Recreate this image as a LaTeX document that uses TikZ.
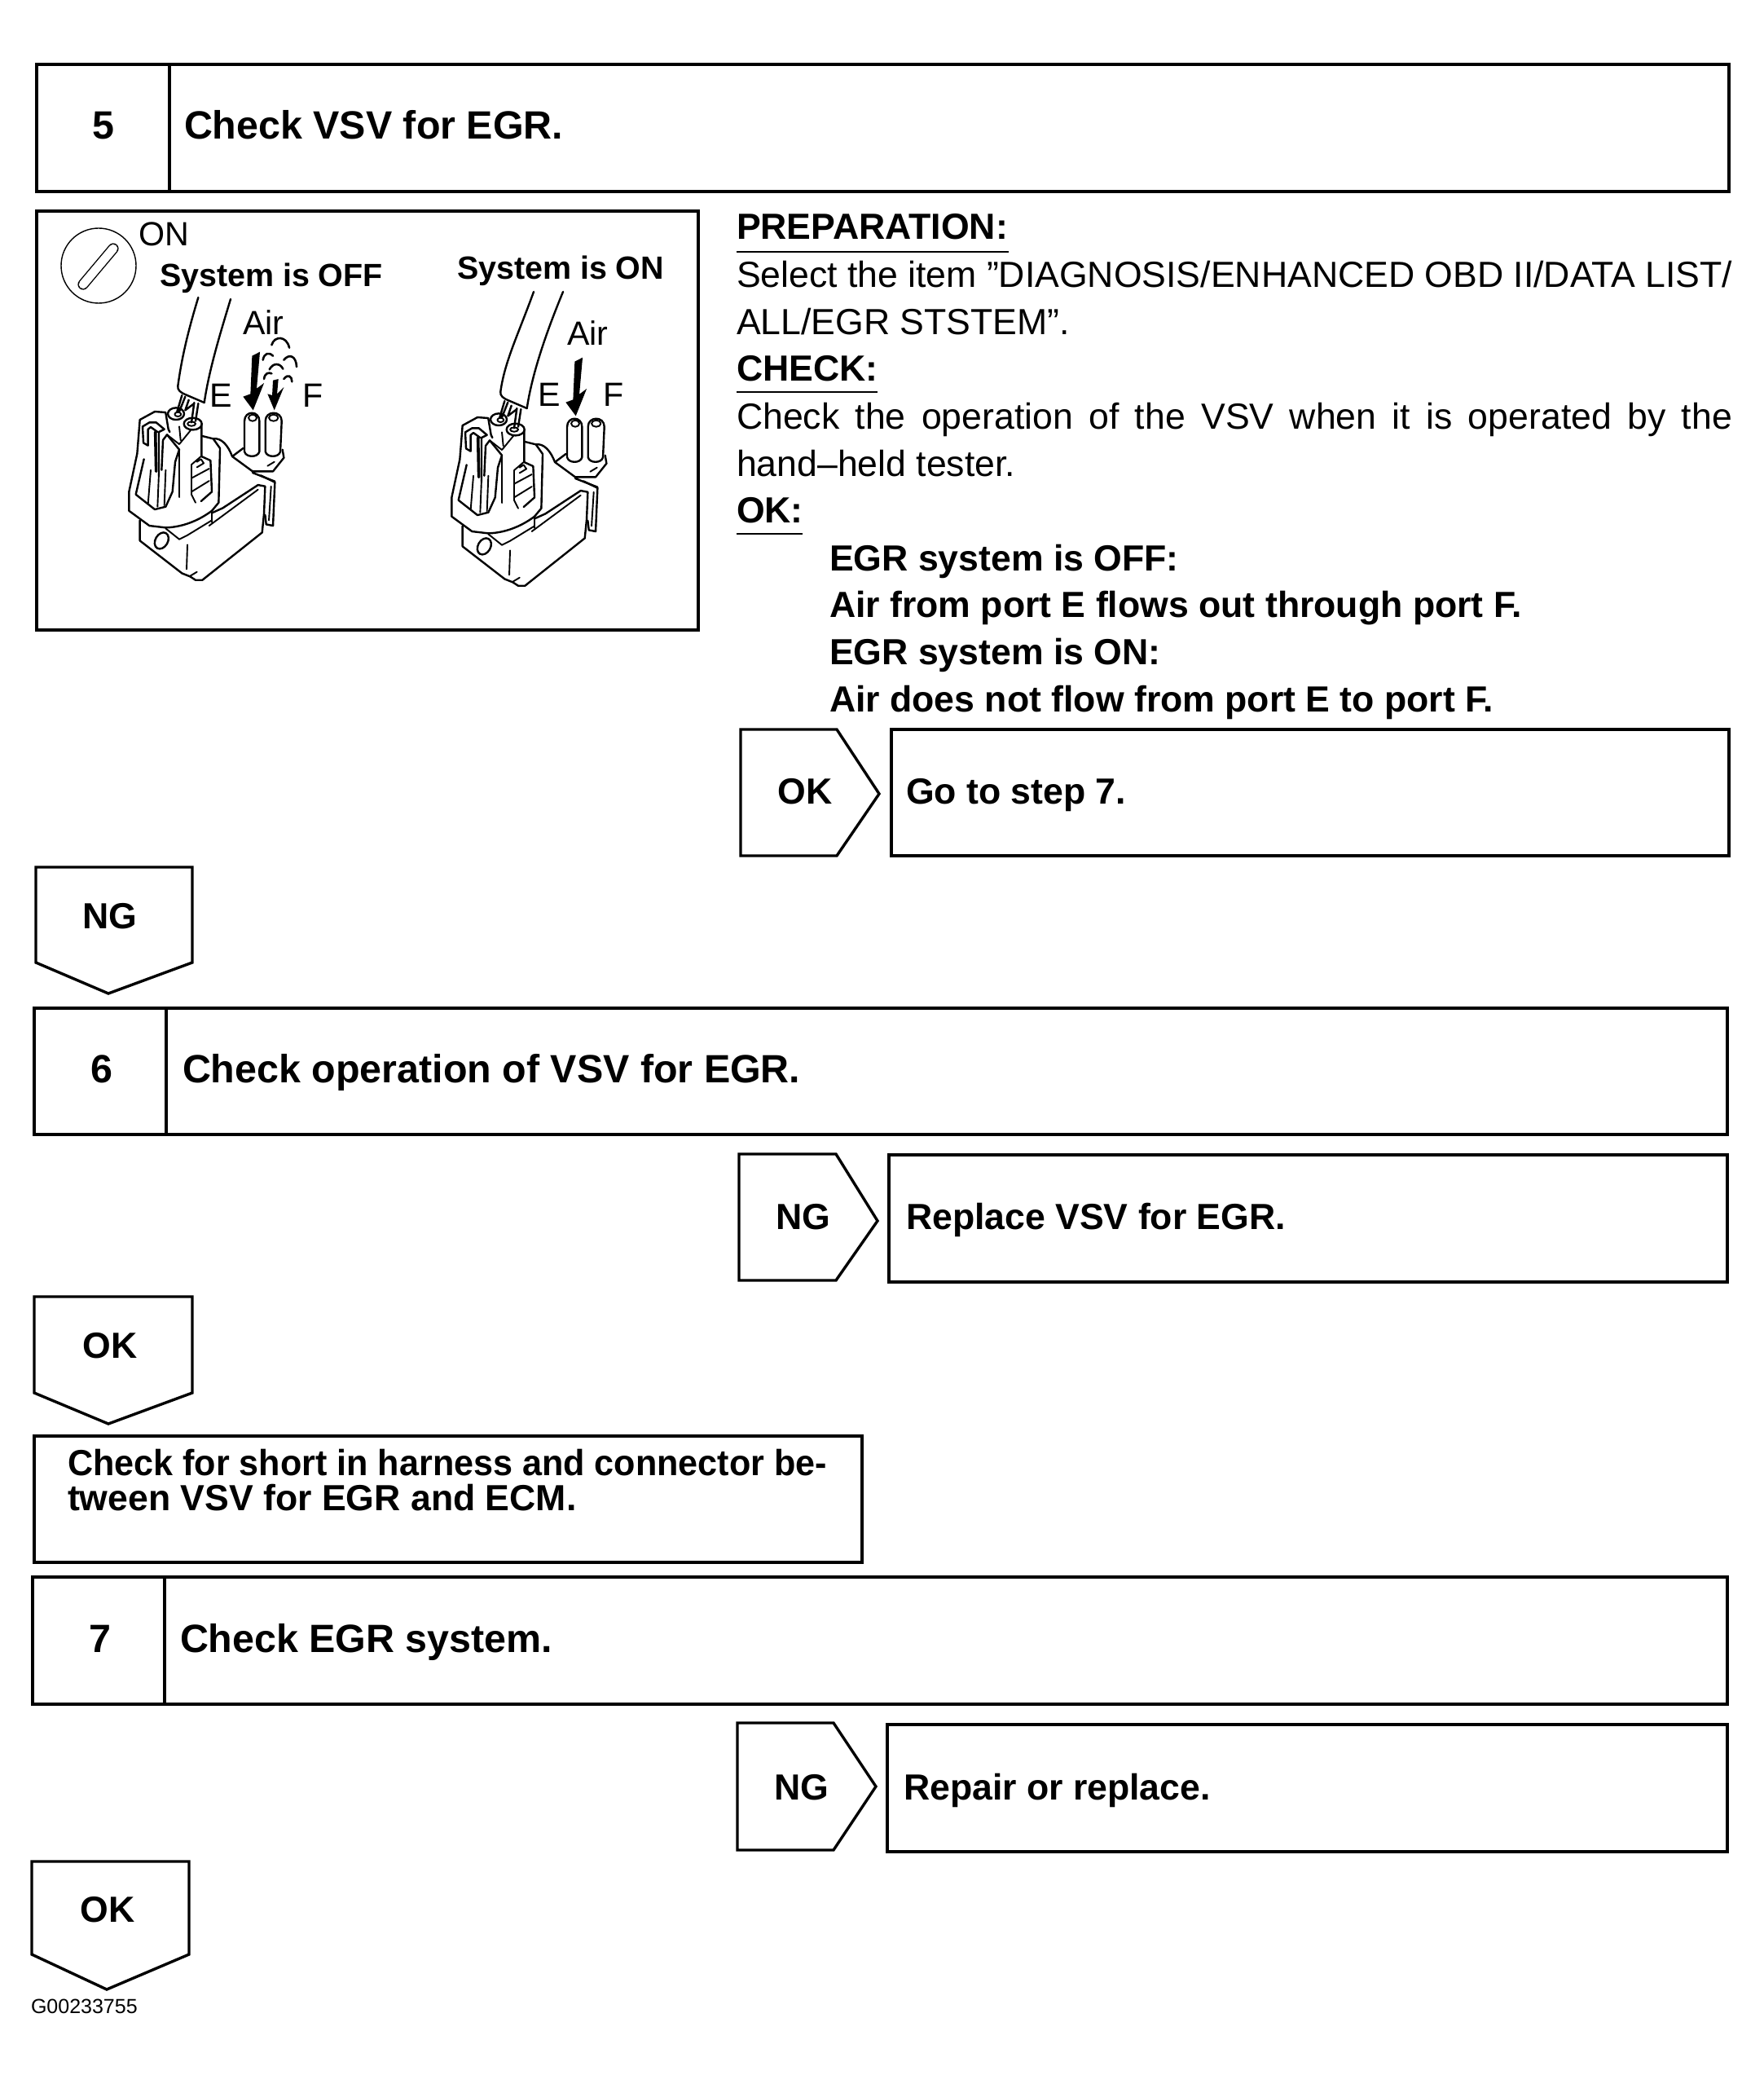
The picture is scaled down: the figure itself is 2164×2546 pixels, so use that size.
\documentclass[tikz,border=0pt]{standalone}
\usepackage{fontspec}
\setmainfont{Liberation Sans}
\newcommand{\bigfont}{\fontsize{24.2}{28}\selectfont\bfseries}
\newcommand{\midfont}{\fontsize{22.3}{26}\selectfont}
\newcommand{\midbold}{\fontsize{22.3}{26}\selectfont\bfseries}
\newcommand{\lblfont}{\fontsize{20.6}{25}\selectfont}
\newcommand{\sysfont}{\fontsize{19.7}{24}\selectfont\bfseries}
\newcommand{\vsvbody}{%
 % lower body
 \draw[ink] (95,805)--(95,880)--(250,1000)--(280,1012)--(300,1025)--(325,1025)--(350,1005)--(545,850)--(552,780)--(556,680)--(530,675)--(400,760)--(360,778);
 \draw[thin1] (530,692)--(350,825) (360,770)--(360,812) (190,835)--(240,875)--(270,860)--(360,805) (270,895)--(267,985) (280,1010)--(305,995);
 \draw[ink] (175,880) ellipse [x radius=23,y radius=32,rotate=-30];
 % right clip
 \draw[ink] (540,640)--(592,665)--(585,825)--(560,820)--(556,785);
 \draw[thin1] (578,680)--(570,805);
 % port base
 \draw[ink] (435,570)--(475,540) (435,570)--(510,625)--(585,625)--(625,575)--(620,545) (510,630)--(592,662);
 \draw[thin1] (565,605)--(590,590);
 % shell
 \draw[ink] (190,408)--(150,405)--(95,435)--(85,560)--(55,700)--(55,770)--(130,825)--(190,832) .. controls (260,830) and (320,800) .. (360,770)--(385,740)--(390,540)--(365,505)--(325,495);
 \draw[ink] (365,505) .. controls (395,500) and (420,530) .. (435,570);
 % clip and inner plug
 \draw[ink] (105,460)--(130,445)--(155,445)--(185,470)--(165,480)--(165,640);
 \draw[ink] (105,460)--(108,520)--(125,530)--(125,470)--(135,462)--(160,480);
 \draw[ink,line width=1.8pt] (152,480)--(155,625);
 \draw[ink] (110,580)--(80,710)--(150,765)--(190,755)--(215,700)--(225,590)--(240,545)--(195,490)--(180,510)--(175,620);
 \draw[thin1] (195,490)--(240,525)--(285,470) (240,545)--(240,720) (240,460)--(245,510) (135,620)--(125,745) (165,630)--(160,755) (190,620)--(185,750);
 % tower
 \draw[ink] (190,410)--(200,470)--(205,480) (322,450)--(322,570)--(355,585)--(360,700)--(320,735);
 \draw[thin1] (285,600)--(285,710)--(300,740) (285,650)--(350,615) (285,700)--(350,660) (305,590)--(320,580)--(330,595)--(305,610) (285,600)--(320,570);
 \draw[ink,fill=white] (228,413) ellipse [x radius=30,y radius=22];
 \draw[thin1] (235,415) ellipse [x radius=12,y radius=8];
 \draw[ink,fill=white] (290,450) ellipse [x radius=33,y radius=22];
 \draw[thin1] (285,450) ellipse [x radius=15,y radius=8];
 % wires
 \draw[ink] (250,345)--(232,405) (262,350)--(240,405) (275,362)--(262,400)--(295,375) (295,372)--(285,445) (310,375)--(300,440);
 % ports
 \draw[ink,fill=white] (480,552)--(480,440) .. controls (480,400) and (535,400) .. (535,440)--(535,552) .. controls (530,575) and (485,575) .. (480,552)--cycle;
 \draw[thin1] (510,428) ellipse [x radius=15,y radius=12];
 \draw[ink,fill=white] (557,552)--(557,440) .. controls (557,400) and (617,400) .. (617,440)--(612,552) .. controls (607,575) and (562,575) .. (557,552)--cycle;
 \draw[thin1] (587,428) ellipse [x radius=17,y radius=12];
 % big arrow
 \fill (508,200)--(537,185)--(525,320)--(552,300)--(512,400)--(475,350)--(502,340)--cycle;
}
\tikzset{
 boxline/.style={line width=1.7pt,line join=miter},
 divline/.style={line width=1.7pt},
 ink/.style={line width=1.2pt,line join=round,line cap=round},
 thin1/.style={line width=.95pt,line join=round,line cap=round},
 puff/.style={line width=1.3pt,line cap=round},
 ulinest/.style={line width=.8pt},
 txt/.style={anchor=base west,inner sep=0pt,outer sep=0pt},
 ctr/.style={anchor=base,inner sep=0pt,outer sep=0pt},
 bigt/.style={font=\bigfont},
 midt/.style={font=\midfont},
 midb/.style={font=\midbold},
 lblt/.style={font=\lblfont},
 syst/.style={font=\sysfont},
 art/.style={x=.1667pt,y=-.1667pt},
}
\begin{document}
\begin{tikzpicture}[x=.5pt,y=-.5pt]
\useasboundingbox (0,0) rectangle (2164,2546);
\fill[white] (0,0) rectangle (2164,2546);

% step 5
\draw[boxline] (45,79) rectangle (2122,235);
\draw[divline] (208,79)--(208,235);
\node[ctr,bigt] (n5) at (127,171) {5};
\node[txt,bigt] (t5) at (226,171) {Check VSV for EGR.};

% illustration frame
\draw[boxline] (45,259) rectangle (857,773);
\draw[line width=.7pt] (121,326) circle [radius=46];
\draw[line width=6.6pt,line cap=round] (102,349)--(139,305);
\draw[white,line width=5.2pt,line cap=round] (102,349)--(139,305);
\node[txt,lblt] (on) at (170,302) {ON};
\node[txt,syst] (sysoff) at (196,352) {System is OFF};
\node[txt,syst] (syson) at (561,343) {System is ON};
\node[txt,lblt] (air1) at (298,411) {Air};
\node[txt,lblt] (air2) at (696,424) {Air};
\node[txt,lblt] (e1) at (257,500) {E};
\node[txt,lblt] (f1) at (371,500) {F};
\node[txt,lblt] (e2) at (660,498) {E};
\node[txt,lblt] (f2) at (740,498) {F};

\begin{scope}[shift={(140,370)},art]
 \vsvbody
 \draw[ink] (310,-15) .. controls (275,100) and (250,200) .. (235,310) .. controls (232,325) and (245,335) .. (262,342) -- (332,372);
 \draw[ink] (429,-9) .. controls (390,120) and (350,250) .. (332,372);
 \fill (585,290)--(605,285)--(600,340)--(625,315)--(590,400)--(565,340)--(582,345)--cycle;
 \draw[puff] (580,160) .. controls (590,125) and (635,125) .. (645,170);
 \draw[puff] (548,215) .. controls (552,190) and (570,185) .. (585,200);
 \draw[puff] (625,215) .. controls (645,190) and (670,200) .. (672,240);
 \draw[puff] (572,250) .. controls (585,225) and (610,225) .. (622,248);
 \draw[puff] (552,285) .. controls (555,262) and (570,260) .. (580,265);
 \draw[puff] (625,285) .. controls (640,265) and (655,275) .. (655,295);
\end{scope}
\begin{scope}[shift={(536,377)},art]
 \vsvbody
 \draw[ink] (357,-57) .. controls (300,100) and (250,200) .. (235,310) .. controls (232,325) and (245,335) .. (262,342) -- (332,372);
 \draw[ink] (465,-57) .. controls (400,100) and (350,250) .. (332,372);
\end{scope}

% right column text
\node[txt,midb] (prep) at (904,294) {PREPARATION:};
\draw[ulinest] (904,309)--(1238,309);
\node[txt,midt] (sel) at (904,353) {\makebox[611pt][s]{Select the item ”DIAGNOSIS/ENHANCED OBD II/DATA LIST/}};
\node[txt,midt] (all) at (904,411) {ALL/EGR STSTEM”.};
\node[txt,midb] (chk) at (904,467) {CHECK:};
\draw[ulinest] (904,481)--(1077,481);
\node[txt,midt] (chk1) at (904,526) {\makebox[611pt][s]{Check the operation of the VSV when it is operated by the}};
\node[txt,midt] (chk2) at (904,584) {hand–held tester.};
\node[txt,midb] (okh) at (904,641) {OK:};
\draw[ulinest] (904,655)--(985,655);
\node[txt,midb] (o1) at (1018,700) {EGR system is OFF:};
\node[txt,midb] (o2) at (1018,757) {Air from port E flows out through port F.};
\node[txt,midb] (o3) at (1018,815) {EGR system is ON:};
\node[txt,midb] (o4) at (1018,873) {Air does not flow from port E to port F.};

% OK -> go to step 7
\draw[boxline] (909,895)--(1027,895)--(1079,974)--(1027,1050)--(909,1050)--cycle;
\node[ctr,midb] (ok1) at (988,986) {OK};
\draw[boxline] (1094,895) rectangle (2122,1050);
\node[txt,midb] (go) at (1112,986) {Go to step 7.};

% NG down
\draw[boxline] (44,1064)--(236,1064)--(236,1181)--(133,1219)--(44,1181)--cycle;
\node[ctr,midb] (ng1) at (135,1139) {NG};

% step 6
\draw[boxline] (42,1237) rectangle (2120,1392);
\draw[divline] (204,1237)--(204,1392);
\node[ctr,bigt] (n6) at (125,1328) {6};
\node[txt,bigt] (t6) at (224,1328) {Check operation of VSV for EGR.};

\draw[boxline] (907,1416)--(1026,1416)--(1077,1498)--(1026,1571)--(907,1571)--cycle;
\node[ctr,midb] (ng2) at (986,1508) {NG};
\draw[boxline] (1091,1417) rectangle (2120,1573);
\node[txt,midb] (rep) at (1112,1508) {Replace VSV for EGR.};

% OK down
\draw[boxline] (42,1591)--(236,1591)--(236,1709)--(133,1747)--(42,1709)--cycle;
\node[ctr,midb] (ok2) at (135,1666) {OK};

\draw[boxline] (42,1762) rectangle (1058,1917);
\node[txt,midb] (s1) at (83,1810) {\resizebox{466pt}{\height}{Check for short in harness and connector be-}};
\node[txt,midb] (s2) at (83,1853) {tween VSV for EGR and ECM.};

% step 7
\draw[boxline] (40,1935) rectangle (2120,2091);
\draw[divline] (202,1935)--(202,2091);
\node[ctr,bigt] (n7) at (123,2027) {7};
\node[txt,bigt] (t7) at (221,2027) {Check EGR system.};

\draw[boxline] (905,2114)--(1023,2114)--(1075,2192)--(1023,2270)--(905,2270)--cycle;
\node[ctr,midb] (ng3) at (984,2208) {NG};
\draw[boxline] (1089,2116) rectangle (2120,2272);
\node[txt,midb] (rr) at (1109,2208) {Repair or replace.};

\draw[boxline] (39,2284)--(232,2284)--(232,2398)--(131,2441)--(39,2398)--cycle;
\node[ctr,midb] (ok3) at (132,2358) {OK};
\node[txt,font=\fontsize{12.5}{14}\selectfont] (code) at (38,2470) {G00233755};
\end{tikzpicture}
\end{document}
